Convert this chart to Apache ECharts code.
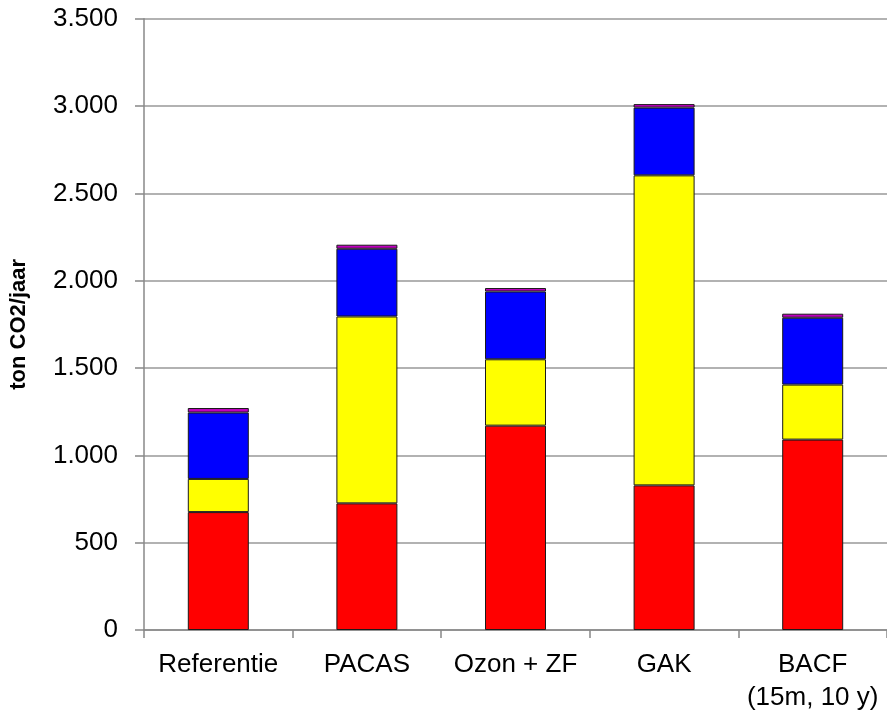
<!DOCTYPE html>
<html>
<head>
<meta charset="utf-8">
<script src="https://cdn.jsdelivr.net/npm/echarts@6/dist/echarts.min.js"></script>
<style>
  html, body { margin: 0; padding: 0; background: #fff; }
  #chart { width: 887px; height: 714px; }
</style>
</head>
<body>
<div id="chart"></div>
<script>
const categories = ['Referentie', 'PACAS', 'Ozon + ZF', 'GAK', 'BACF\n(15m, 10 y)']
const redValues = [675, 725, 1170, 828, 1090]
const yellowValues = [190, 1070, 380, 1775, 315]
const blueValues = [380, 388, 388, 388, 383]
const magentaValues = [26, 23, 20, 20, 23]
const yTicks = { min: 0, max: 3500, interval: 500 }

const chart = echarts.init( document.getElementById( 'chart' ) )

const fmt = v => String( v ).replace( /\B(?=(\d{3})+(?!\d))/g, '.' )

const makeSeries = ( name, data, color ) => ( {
  name,
  type : 'bar',
  stack : 'total',
  data,
  barWidth : 61,
  itemStyle : {
    color,
    borderColor : '#1a1a1a',
    borderWidth : 1
  }
} )

chart.setOption( {
  animation : false,
  backgroundColor : '#fff',
  grid : {
    left : 143,
    top : 18.7,
    bottom : 83.3,
    width : 748
  },
  xAxis : {
    type : 'category',
    data : categories,
    axisLine : { lineStyle : { color : '#888', width : 1.5 } },
    axisTick : { show : true, length : 8, lineStyle : { color : '#888', width : 1.5 } },
    axisLabel : {
      color : '#000',
      fontFamily : 'Liberation Sans',
      fontSize : 26,
      lineHeight : 33,
      margin : 18,
      interval : 0
    }
  },
  yAxis : {
    type : 'value',
    min : yTicks.min,
    max : yTicks.max,
    interval : yTicks.interval,
    name : 'ton CO2/jaar',
    nameLocation : 'middle',
    nameGap : 114,
    nameTextStyle : {
      color : '#000',
      fontFamily : 'Liberation Sans',
      fontWeight : 'bold',
      fontSize : 22
    },
    axisLine : { show : true, lineStyle : { color : '#888', width : 1.5 } },
    axisTick : { show : true, length : 9, lineStyle : { color : '#888', width : 1.5 } },
    axisLabel : {
      color : '#000',
      fontFamily : 'Liberation Sans',
      fontSize : 26,
      margin : 26,
      formatter : fmt
    },
    splitLine : { show : true, lineStyle : { color : '#999', width : 1.5 } }
  },
  series : [
    makeSeries( 'red', redValues, '#ff0000' ),
    makeSeries( 'yellow', yellowValues, '#ffff00' ),
    makeSeries( 'blue', blueValues, '#0000ff' ),
    makeSeries( 'magenta', magentaValues, '#c000c0' )
  ]
} )
</script>
</body>
</html>
